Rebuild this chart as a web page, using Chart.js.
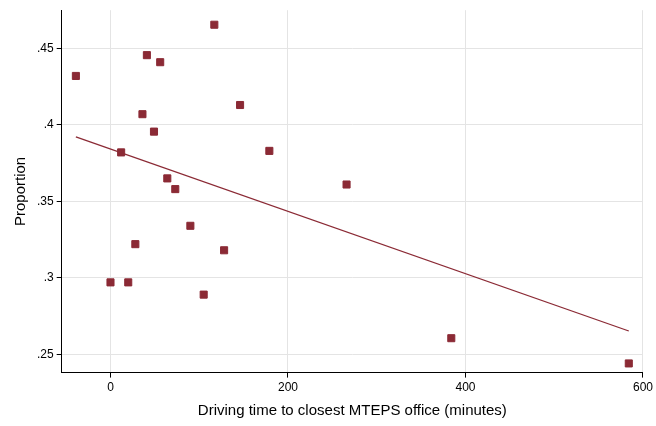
<!DOCTYPE html>
<html><head><meta charset="utf-8">
<script src="https://cdn.jsdelivr.net/npm/chart.js@4"></script>
<style>html,body{margin:0;padding:0;background:#fff}#wrap{width:656px;height:426px}</style>
</head><body><div id="wrap"><canvas id="c"></canvas></div>
<script>
const drivingTime = [-39, 41, 56, 117, 36, 49, 146, 12, 179, 64, 73, 266, 90, 28, 128, 0, 20, 105, 384, 584];
const proportion = [.432, .4456, .441, .4655, .407, .3956, .413, .382, .383, .365, .358, .361, .334, .322, .318, .297, .297, .289, .2605, .244];
const xTicks = [0, 200, 400, 600];
const yTicks = [.25, .3, .35, .4, .45];
// fitted line endpoints
const fitX = [-39, 584];
const fitY = [.3922, .2652];

const color = '#8b2a35';
new Chart(document.getElementById('c'), {
  type: 'scatter',
  data: {
    datasets: [
      {data: drivingTime.map((x, i) => ({x, y: proportion[i]})), pointStyle: 'rect', pointRadius: 5, backgroundColor: color, borderColor: color},
      {type: 'line', data: fitX.map((x, i) => ({x, y: fitY[i]})), borderColor: color, borderWidth: 1.3, pointRadius: 0, fill: false}
    ]
  },
  options: {
    responsive: true, maintainAspectRatio: false, animation: false,
    layout: {padding: {left: 8, right: 2, top: -9, bottom: 2}},
    plugins: {legend: {display: false}, tooltip: {enabled: false}},
    scales: {
      x: {
        type: 'linear', min: -55, max: 600,
        afterBuildTicks: s => { s.ticks = xTicks.map(v => ({value: v})); },
        ticks: {color: '#000', font: {family: 'Liberation Sans', size: 12}},
        grid: {color: '#e4e4e4', tickColor: '#000', tickLength: 5},
        border: {color: '#000'},
        title: {display: true, text: 'Driving time to closest MTEPS office (minutes)', color: '#000', font: {family: 'Liberation Sans', size: 15}}
      },
      y: {
        min: .238, max: .475,
        afterBuildTicks: s => { s.ticks = yTicks.map(v => ({value: v})); },
        ticks: {color: '#000', font: {family: 'Liberation Sans', size: 12}, callback: v => String(+v.toFixed(2)).replace(/^0/, '')},
        grid: {color: '#e4e4e4', tickColor: '#000', tickLength: 5},
        border: {color: '#000'},
        title: {display: true, text: 'Proportion', color: '#000', font: {family: 'Liberation Sans', size: 15}}
      }
    }
  }
});
</script></body></html>
